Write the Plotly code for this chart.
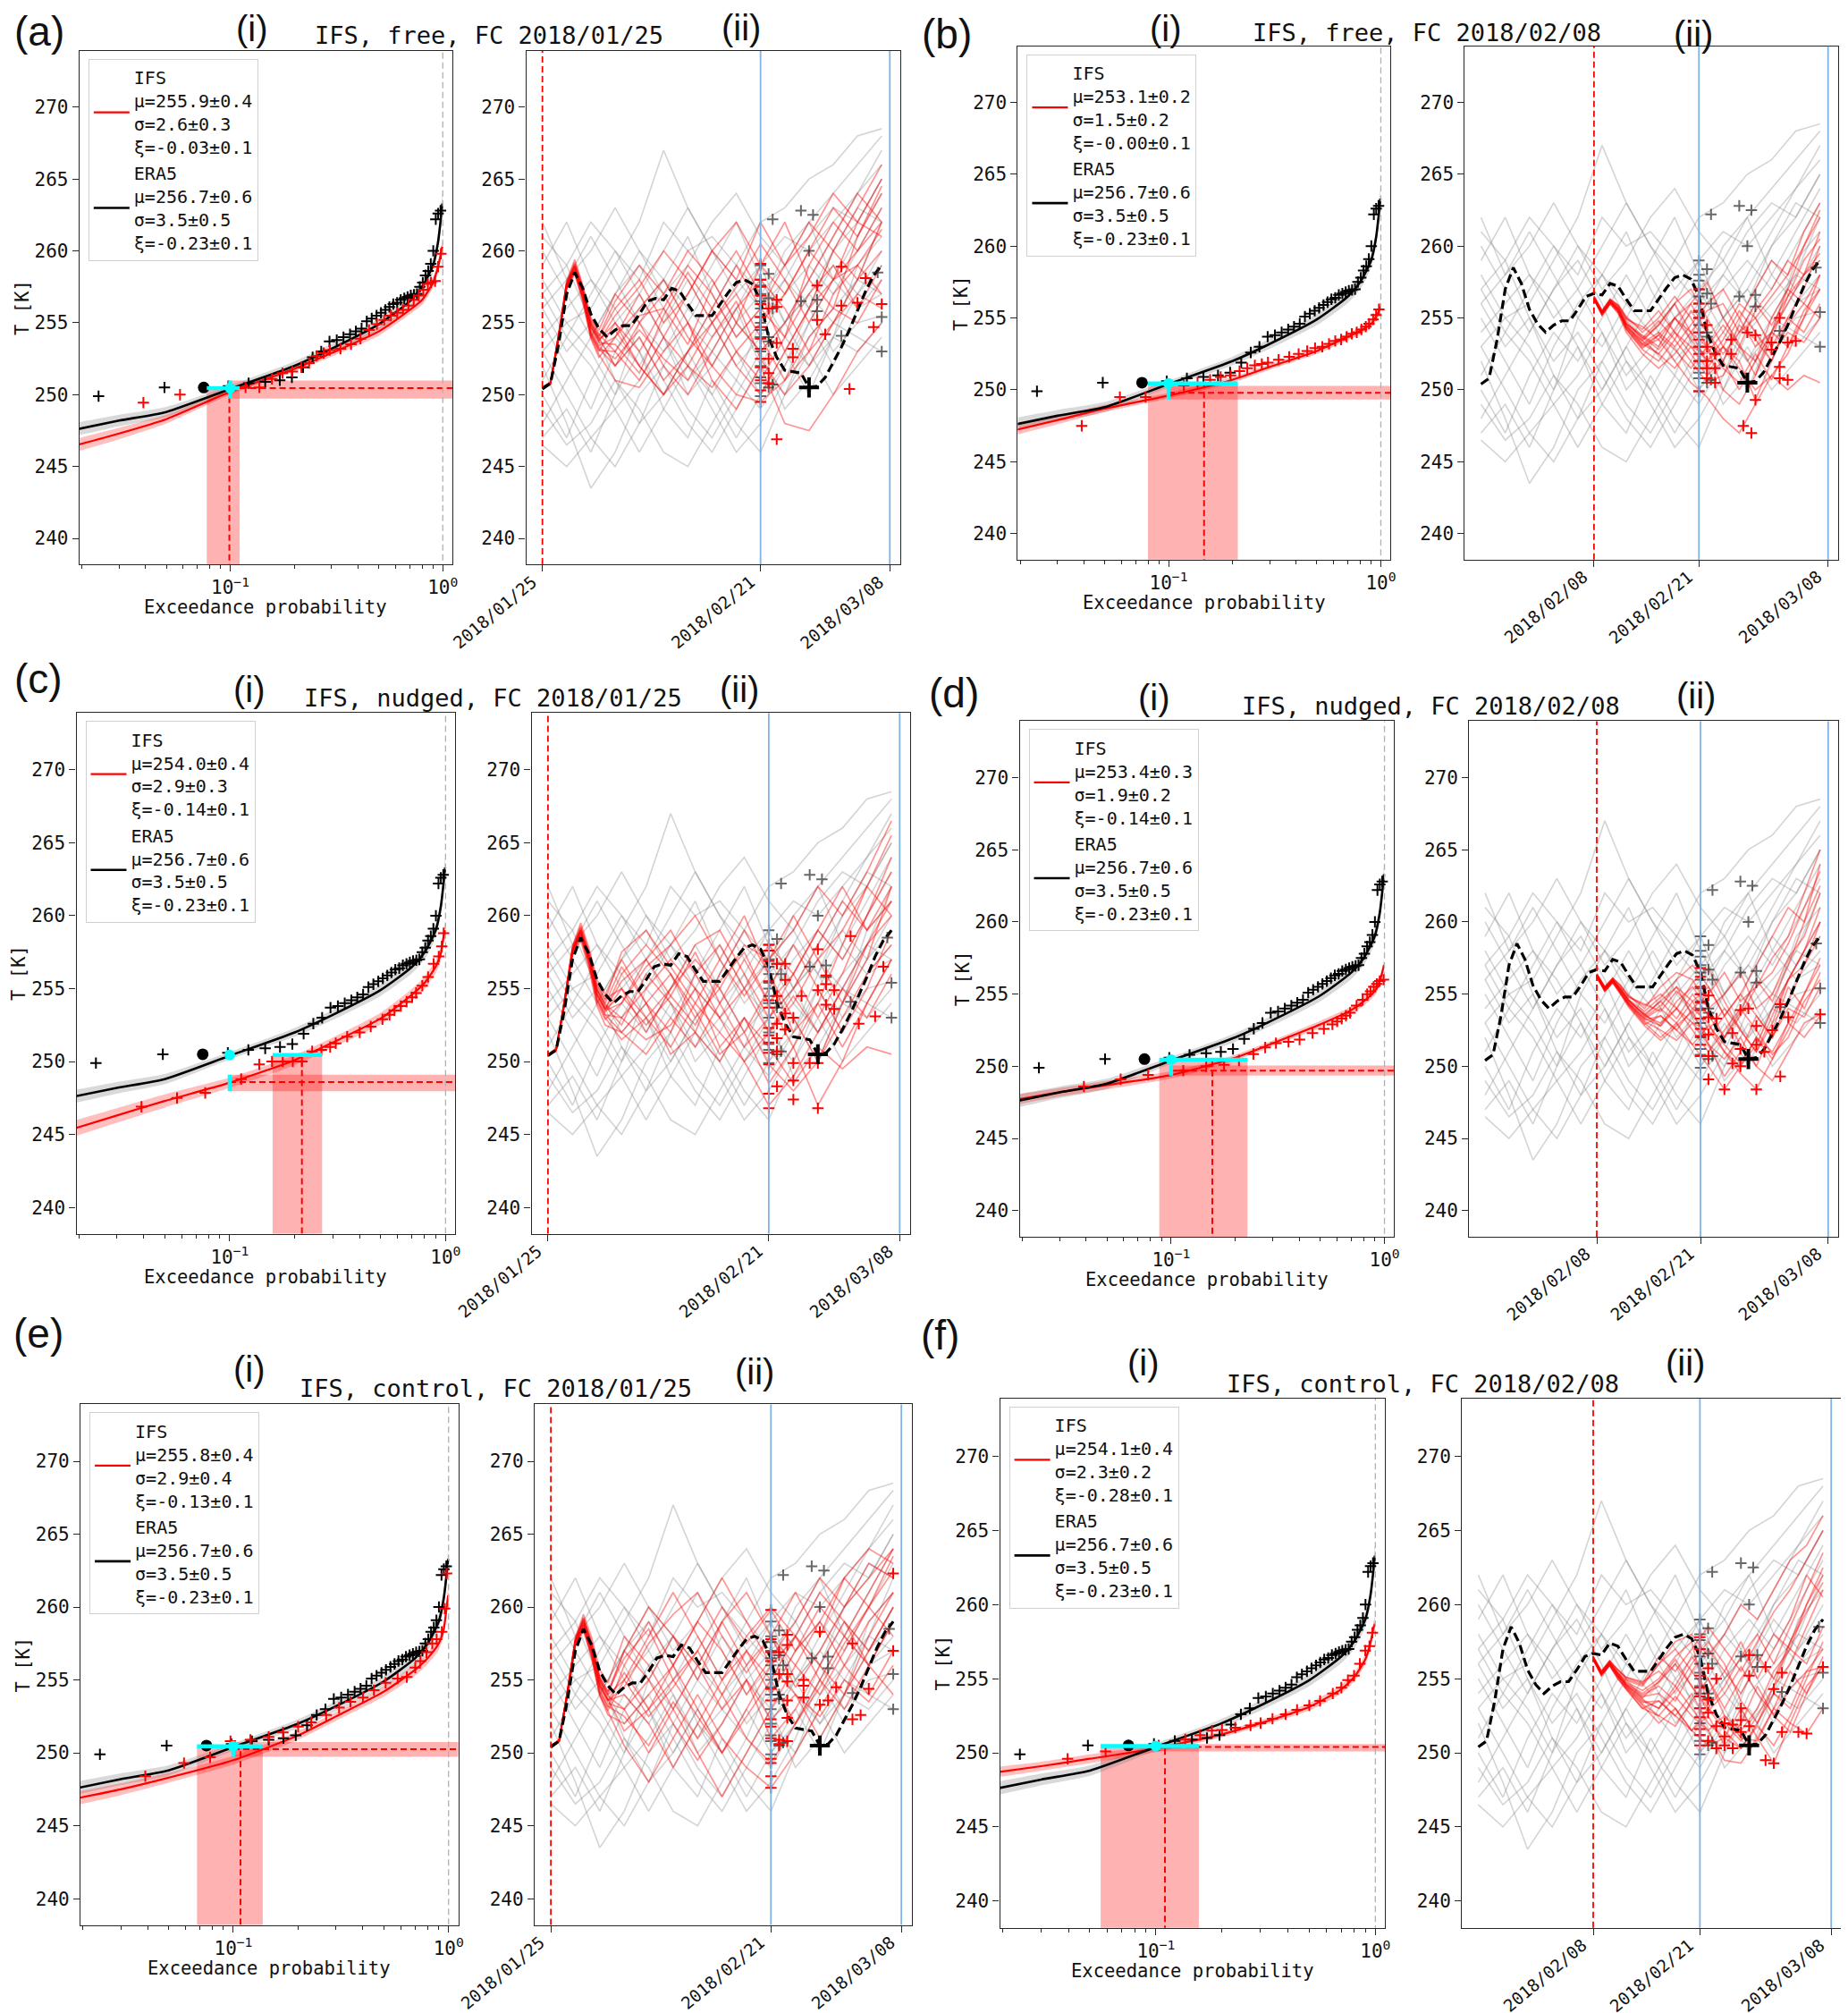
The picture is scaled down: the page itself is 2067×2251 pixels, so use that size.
import datetime as dt
import plotly.graph_objects as go

MONO = "DejaVu Sans Mono"
SANS = "Liberation Sans"
START = dt.datetime(2018, 1, 25)

# ---------------- ERA5, identical in every panel ----------------
P_GRID = [0.019, 0.03, 0.05, 0.1, 0.2, 0.3, 0.5, 0.7, 0.8, 0.9, 0.95, 0.98, 0.995]
ERA5_RL = [247.6, 248.2, 248.8, 250.4, 252.0, 253.2, 254.9, 256.5, 257.5, 259.0, 260.6, 262.3, 263.3]
ERA5_HW = [0.45, 0.4, 0.35, 0.25, 0.3, 0.35, 0.4, 0.45, 0.5, 0.5, 0.55, 0.6, 0.7]
ERA5_EMP_P = [0.024, 0.049, 0.098, 0.122, 0.146, 0.171, 0.195, 0.22, 0.244, 0.268,
              0.293, 0.317, 0.341, 0.366, 0.39, 0.415, 0.439, 0.463, 0.488, 0.512,
              0.537, 0.561, 0.585, 0.61, 0.634, 0.659, 0.683, 0.707, 0.732, 0.756,
              0.78, 0.805, 0.829, 0.854, 0.878, 0.902, 0.927, 0.951, 0.976]
ERA5_EMP_T = [249.9, 250.5, 250.6, 250.8, 250.9, 251.0, 251.2, 251.9, 252.6, 253.0,
              253.7, 253.8, 254.0, 254.2, 254.4, 254.6, 255.1, 255.3, 255.5, 255.7,
              255.9, 256.1, 256.3, 256.4, 256.6, 256.7, 256.8, 256.9, 256.95, 257.0,
              257.5, 257.8, 258.3, 258.6, 259.1, 260.0, 262.2, 262.6, 262.8]
EVENT_P = 0.075          # ERA5 2018 (black dot)
EVENT_T = 250.45
ERA5_RL10 = 250.45       # ERA5 10% return level (cyan dot)
ERA5_LABEL = "ERA5<br>μ=256.7±0.6<br>σ=3.5±0.5<br>ξ=-0.23±0.1"

# daily ERA5 2018 from 2018/01/25 to 2018/03/08
ERA5_2018 = [250.4, 250.8, 253.5, 257.0, 258.5, 257.4, 255.6, 254.6, 254.0, 254.5,
             254.8, 254.8, 255.6, 256.5, 256.7, 256.6, 257.4, 257.2, 256.3, 255.5,
             255.5, 255.5, 256.3, 257.1, 257.8, 258.0, 257.7, 256.5, 254.0, 252.6,
             251.7, 251.6, 251.5, 250.5, 250.6, 251.2, 252.2, 253.3, 254.5, 255.8,
             257.2, 258.3, 259.0]
ERA5_2018_MIN = (33, 250.5)

# other ERA5 years (grey), every 3 days
GREY_DAYS = [0, 3, 6, 9, 12, 15, 18, 21, 24, 27, 30, 33, 36, 39, 42]
GREY_YEARS = [
    [261, 259, 262, 260, 258, 262, 260, 261, 259, 262, 263, 265, 266, 268, 268.5],
    [258, 255, 256, 259, 262, 267, 263, 260, 258, 256, 258, 261, 263, 262, 265],
    [255, 252, 249, 253, 256, 258, 255, 253, 256, 259, 261, 260, 262, 264, 266],
    [252, 248, 243.5, 246, 250, 252, 249, 247, 250, 253, 255, 252, 254, 257, 259],
    [257, 259, 255, 252, 254, 251, 248, 246, 249, 252, 250, 254, 256, 258, 262],
    [250, 247, 251, 254, 252, 255, 258, 255, 252, 254, 257, 259, 257, 260, 263],
    [254, 256, 258, 256, 253, 250, 253, 256, 259, 257, 254, 252, 255, 254, 253],
    [248, 251, 254, 257, 259, 256, 252, 249, 246, 248, 251, 255, 258, 256, 257],
    [259, 262, 258, 255, 257, 260, 263, 260, 257, 259, 255, 258, 261, 264, 267],
    [253, 250, 247, 249, 246, 249, 252, 250, 253, 250, 252, 256, 253, 255, 255.5],
    [256, 253, 255, 251, 248, 252, 255, 258, 255, 253, 249, 251, 254, 259, 261],
    [251, 254, 252, 249, 251, 254, 251, 253, 251, 255, 258, 256, 259, 257, 260],
    [262, 258, 260, 263, 260, 257, 259, 262, 264, 261, 259, 262, 258, 261, 264],
    [247, 249, 246, 250, 253, 249, 247, 251, 248, 246, 250, 253, 250, 252, 254],
    [256, 258, 261, 258, 255, 253, 256, 259, 262, 258, 255, 257, 260, 262, 265],
    [249, 246.5, 248, 251, 249, 246, 245, 248, 251, 249, 252, 255, 252, 256, 258],
    [260, 257, 254, 257, 260, 258, 261, 257, 254, 256, 260, 262, 264, 266, 268],
    [253, 255, 253, 250, 255, 258, 256, 254, 256, 252, 255, 257, 255, 258, 257],
    [257, 254, 257, 260, 257, 254, 250, 252, 255, 257, 259, 256, 260, 263, 262],
    [246.5, 245, 247, 245, 248, 250, 253, 250, 247, 250, 253, 250, 254, 253, 255],
]
ERA5_MIN_DAY = [27, 27, 27, 27, 27, 27, 27, 27, 27, 27, 27, 27, 27, 27, 27,
                28, 28, 28, 28, 28, 28.5, 28.5, 28.5, 32, 32, 33, 33.5, 34, 34,
                37, 41.5, 42, 42]
ERA5_MIN_T = [259.0, 258.0, 257.6, 257.0, 256.5, 256.0, 255.4, 255.0, 254.5, 254.0,
              253.0, 252.0, 251.2, 250.8, 249.9, 258.4, 256.7, 254.0, 253.7, 250.5,
              262.2, 256.0, 250.7, 262.8, 256.5, 260.0, 262.5, 256.6, 255.8,
              254.1, 258.5, 255.4, 253.0]

WINDOW_START_DAY = 27    # 2018/02/21
WINDOW_END_DAY = 43      # end of 2018/03/08
JAN_DAYS = [0, 1, 2, 3, 4, 5, 6, 7, 9, 12, 15, 18, 21, 24, 27, 30, 33, 36, 39, 42]
FEB_DAYS = [14, 15, 16, 17, 18, 20, 22, 24, 26, 28, 30, 32, 34, 36, 38, 40, 42]

# ---------------- (a) IFS free, FC 2018/01/25 ----------------
A_LABEL = "IFS<br>μ=255.9±0.4<br>σ=2.6±0.3<br>ξ=-0.03±0.1"
A_RL = [246.5, 247.3, 248.3, 250.2, 251.8, 252.9, 254.4, 255.9, 256.6, 257.8, 258.9, 259.8, 260.3]
A_HW = [0.45, 0.4, 0.3, 0.2, 0.2, 0.25, 0.3, 0.3, 0.35, 0.35, 0.4, 0.4, 0.45]
A_EMP_P = [0.039, 0.058, 0.098, 0.118, 0.137, 0.157, 0.176, 0.196, 0.216, 0.235, 0.255,
           0.275, 0.294, 0.33, 0.37, 0.41, 0.45, 0.49, 0.53, 0.57, 0.61, 0.65, 0.69,
           0.73, 0.77, 0.81, 0.85, 0.88, 0.92, 0.95, 0.98]
A_EMP_T = [249.45, 250.0, 250.4, 250.5, 250.5, 251.1, 251.5, 251.6, 251.9, 252.2, 252.7,
           252.9, 253.1, 253.2, 253.5, 253.9, 254.5, 254.9, 255.2, 255.5, 255.7, 255.9,
           256.2, 256.6, 256.9, 257.3, 257.7, 257.8, 257.9, 258.9, 259.8]
A_P_EVENT = [0.0775, 0.099, 0.1107]
A_RL10 = [249.73, 250.45, 250.99]
A_MEMBERS = [
    [250.5, 250.8, 254.2, 257.8, 259.2, 257.5, 255.0, 254.0, 256, 258, 255, 257, 260, 258, 262, 259, 261, 264, 262, 265],
    [250.5, 250.8, 253.8, 257.4, 258.5, 256.6, 254.2, 253.2, 252, 254, 251, 253, 255, 252, 250, 253, 256, 258, 260, 262],
    [250.4, 250.7, 254.0, 257.6, 258.9, 257.2, 254.8, 253.8, 255, 253, 256, 259, 257, 254, 256, 259, 262, 260, 263, 266],
    [250.5, 250.9, 254.1, 257.7, 258.6, 256.8, 254.0, 252.8, 251, 250.5, 253, 255, 252, 250, 249.5, 251, 254, 256, 255, 258],
    [250.5, 250.8, 253.9, 257.5, 259.0, 257.3, 255.2, 254.5, 257, 255, 252, 250, 253, 256, 258, 256, 253, 255, 258, 260],
    [250.5, 250.8, 254.0, 257.6, 258.7, 256.9, 254.4, 253.4, 254, 256, 258, 255, 251, 249, 252, 248, 247.5, 250, 253, 255],
    [250.4, 250.8, 254.2, 257.9, 259.4, 257.6, 255.4, 254.2, 253, 251, 254, 257, 260, 262, 259, 257, 260, 263, 261, 264],
    [250.5, 250.8, 253.9, 257.4, 258.4, 256.4, 253.9, 252.6, 254, 257, 254, 252, 255, 257, 254, 251, 253, 257, 259, 257],
    [250.5, 250.8, 254.1, 257.7, 258.9, 257.1, 254.7, 253.9, 252, 255, 257, 260, 258, 255, 253, 255, 258, 261, 264, 262],
    [250.5, 250.8, 254.0, 257.5, 258.6, 256.7, 254.1, 253.0, 255, 252, 250, 253, 256, 259, 256, 254, 257, 259, 256, 259],
    [250.5, 250.8, 254.0, 257.6, 258.8, 257.0, 254.6, 253.6, 253.5, 251.5, 255.5, 258.5, 256, 253, 251, 254, 259, 262, 260, 263],
    [250.5, 250.8, 254.1, 257.8, 259.1, 257.4, 255.1, 254.1, 256.5, 259, 257, 254, 252, 255, 259, 262, 258, 256, 261, 264.5],
    [250.4, 250.8, 253.9, 257.5, 258.7, 256.9, 254.3, 253.3, 252.5, 254.5, 252.5, 251, 254, 256.5, 252.5, 250, 252, 255, 257, 256],
    [250.5, 250.8, 254.0, 257.6, 258.9, 257.2, 254.7, 253.7, 255.5, 257.5, 260, 258, 255, 257.5, 260.5, 258, 255, 258, 262, 261],
    [250.5, 250.9, 254.1, 257.7, 259.0, 257.2, 254.9, 253.9, 254.5, 252, 250, 252, 250.5, 253, 255, 257, 260, 258, 259, 261.5],
    [250.5, 250.8, 253.9, 257.5, 258.6, 256.7, 254.2, 253.1, 253, 255.5, 256, 253.5, 257.5, 260, 257, 253, 256, 260, 258, 262],
]
A_MIN_DAY = [27, 27, 27, 27, 27, 27, 27, 27, 27, 27, 27, 27, 27, 27, 28, 28, 28, 28,
             29, 29, 29, 29, 31, 31, 34, 34, 35, 37, 37, 38, 39, 40, 41, 42]
A_MIN_T = [259.1, 258.0, 257.5, 256.9, 256.3, 255.4, 254.7, 253.9, 253.2, 252.5, 251.9,
           251.0, 250.3, 249.5, 256.0, 252.5, 251.5, 250.8, 256.6, 253.6, 246.9, 256.1,
           253.2, 252.6, 257.6, 255.2, 254.2, 258.9, 256.2, 250.4, 256.4, 258.1, 254.7, 256.3]

# ---------------- (b) IFS free, FC 2018/02/08 ----------------
B_LABEL = "IFS<br>μ=253.1±0.2<br>σ=1.5±0.2<br>ξ=-0.00±0.1"
B_RL = [247.2, 247.9, 248.7, 249.6, 250.7, 251.6, 252.7, 253.7, 254.1, 254.6, 255.1, 255.5, 255.8]
B_HW = [0.35, 0.3, 0.25, 0.2, 0.2, 0.2, 0.2, 0.25, 0.25, 0.3, 0.3, 0.35, 0.35]
B_EMP_P = [0.039, 0.059, 0.078, 0.118, 0.137, 0.157, 0.176, 0.196, 0.216, 0.235, 0.255,
           0.275, 0.294, 0.33, 0.37, 0.41, 0.45, 0.49, 0.53, 0.57, 0.61, 0.65, 0.69,
           0.73, 0.77, 0.81, 0.85, 0.88, 0.92, 0.95, 0.98]
B_EMP_T = [247.5, 249.5, 249.5, 250.3, 250.5, 250.7, 250.9, 251.0, 251.3, 251.5, 251.7,
           251.8, 251.9, 252.1, 252.3, 252.5, 252.7, 252.9, 253.0, 253.2, 253.4, 253.5,
           253.7, 253.9, 254.0, 254.2, 254.4, 254.6, 254.9, 255.2, 255.6]
B_P_EVENT = [0.080, 0.147, 0.212]
B_RL10 = [249.33, 249.8, 250.27]
B_MEMBERS = [
    [256.4, 255.4, 256.2, 255.8, 254.8, 253.5, 254.5, 256, 257, 255, 253, 255, 257, 259, 258, 261, 263],
    [256.3, 255.2, 256.0, 255.4, 254.2, 252.8, 252, 253.5, 252, 250.5, 251, 253, 252, 254, 256, 258, 259],
    [256.5, 255.5, 256.3, 255.9, 255.0, 254.2, 255.5, 254, 253, 252.5, 254, 256, 255, 253, 255, 257, 260],
    [256.3, 255.3, 256.1, 255.5, 254.3, 253.0, 253.5, 252, 250.5, 249.5, 248, 247, 249, 251, 250, 251, 250.5],
    [256.4, 255.4, 256.2, 255.7, 254.6, 253.8, 253, 255, 256, 254, 252, 250, 252, 255, 257, 256, 258],
    [256.4, 255.3, 256.1, 255.6, 254.5, 253.2, 254, 253, 254.5, 256, 257, 255, 253, 254, 257, 260, 262],
    [256.3, 255.2, 256.0, 255.3, 254.0, 252.5, 251.5, 252.5, 254, 253, 250, 249, 251, 254, 253, 255, 257],
    [256.5, 255.5, 256.3, 255.9, 255.1, 254.0, 255, 256.5, 255, 253, 254.5, 253, 255.5, 257, 259, 258, 261],
    [256.4, 255.4, 256.2, 255.6, 254.4, 253.4, 252.5, 254, 252.5, 251, 252, 254.5, 253.5, 252, 254.5, 256, 255],
    [256.3, 255.3, 256.1, 255.5, 254.3, 253.1, 253.8, 255, 253.5, 252, 253, 251.5, 250, 251, 252.5, 255, 258],
    [256.4, 255.4, 256.2, 255.7, 254.6, 253.6, 254.8, 253.5, 255.5, 254, 252.5, 254, 256, 254.5, 256.5, 259, 260.5],
    [256.3, 255.3, 256.1, 255.5, 254.4, 253.2, 252.5, 251.5, 253, 251.5, 253, 252, 249.3, 252, 255, 254, 256],
    [256.5, 255.5, 256.3, 255.8, 254.9, 254.4, 253.5, 255, 254, 255.5, 256, 254, 255, 256.5, 258, 260, 262.5],
    [256.3, 255.2, 256.0, 255.4, 254.2, 252.9, 253.8, 252.8, 251.5, 253, 251.5, 250.5, 252.5, 250.7, 253, 255.5, 257],
    [256.4, 255.4, 256.2, 255.6, 254.5, 253.4, 254.5, 256, 254, 252, 253.5, 255.5, 254, 252.5, 254, 253.3, 255],
    [256.4, 255.3, 256.1, 255.6, 254.6, 253.7, 252.8, 254.2, 256, 257.5, 255, 253.2, 251, 253.5, 256.5, 258, 259.5],
]
B_MIN_DAY = [27, 27, 27, 27, 27, 27, 27, 27, 27, 27, 27, 28, 28, 28, 28, 28, 29, 29, 29,
             31, 31, 32.5, 33, 33, 33.5, 34, 34, 36, 36, 37, 37, 37, 38, 38, 39]
B_MIN_T = [257.0, 256.0, 255.5, 255.0, 254.0, 253.5, 253.0, 252.5, 252.0, 251.5, 249.9,
           254.5, 253.0, 252.0, 251.5, 250.8, 252.5, 251.5, 250.5, 253.5, 252.5, 247.5,
           254.0, 250.5, 247.0, 249.3, 253.8, 253.3, 252.8, 255.0, 251.6, 250.8, 253.3,
           250.7, 253.4]

# ---------------- (c) IFS nudged, FC 2018/01/25 ----------------
C_LABEL = "IFS<br>μ=254.0±0.4<br>σ=2.9±0.3<br>ξ=-0.14±0.1"
C_RL = [245.4, 246.3, 247.3, 248.55, 250.1, 251.3, 252.95, 254.6, 255.4, 256.5, 257.4, 258.6, 259.0]
C_HW = [0.55, 0.5, 0.45, 0.35, 0.35, 0.35, 0.4, 0.4, 0.45, 0.45, 0.5, 0.5, 0.55]
C_EMP_P = [0.039, 0.057, 0.077, 0.113, 0.137, 0.157, 0.176, 0.196, 0.216, 0.241, 0.266,
           0.292, 0.31, 0.35, 0.4, 0.45, 0.51, 0.55, 0.58, 0.62, 0.66, 0.7, 0.73, 0.78,
           0.83, 0.88, 0.93, 0.96, 0.98]
C_EMP_T = [246.9, 247.5, 247.85, 248.8, 249.8, 250.0, 250.0, 250.0, 250.0, 250.7, 250.8,
           251.0, 251.25, 251.7, 252.0, 252.4, 252.9, 253.2, 253.5, 253.8, 254.1, 254.4,
           254.7, 255.2, 255.8, 256.7, 257.2, 257.9, 258.8]
C_P_EVENT = [0.158, 0.216, 0.268]
C_RL10 = [247.96, 248.6, 249.1]
C_MEMBERS = [
    [250.5, 250.8, 254.0, 257.6, 259.0, 257.3, 254.8, 253.6, 256, 258, 256, 253, 255, 258, 257, 259, 262, 260, 263, 266.5],
    [250.5, 250.8, 253.9, 257.5, 258.6, 256.8, 254.2, 253.0, 251.5, 253, 251, 254, 252, 250, 247, 249, 252, 255, 253, 256],
    [250.4, 250.7, 254.1, 257.8, 259.3, 257.6, 255.3, 254.3, 255, 252, 255, 258, 259, 256, 253, 255, 258, 261, 259, 262],
    [250.5, 250.9, 254.0, 257.6, 258.7, 256.9, 254.3, 253.2, 253, 255, 257, 255, 251, 253, 249.8, 248, 250, 253, 256, 258],
    [250.5, 250.8, 254.2, 257.9, 259.5, 257.8, 255.6, 254.6, 257, 254, 252, 256, 258, 255, 258, 256, 253, 256, 260, 263],
    [250.5, 250.8, 253.8, 257.3, 258.3, 256.4, 253.8, 252.5, 252, 250.5, 253, 251, 254, 257, 254, 251, 247, 250, 254, 257],
    [250.5, 250.8, 254.1, 257.7, 259.0, 257.1, 254.6, 253.5, 254, 257, 259, 256, 253, 255, 252, 254, 257, 259, 262, 260],
    [250.4, 250.8, 253.9, 257.5, 258.8, 257.0, 254.5, 253.4, 255, 253, 255, 257, 255, 252, 255, 258, 255, 252, 255, 259],
    [250.5, 250.8, 254.0, 257.6, 258.9, 257.2, 254.9, 253.8, 252.5, 256, 254, 252, 256, 259, 256, 253, 250, 254, 258, 261],
    [250.5, 250.8, 254.1, 257.7, 259.1, 257.4, 255.0, 254.0, 256.5, 254, 250.5, 252, 250, 253, 251, 248.5, 251, 249.5, 251, 250.5],
    [250.5, 250.8, 254.0, 257.6, 258.8, 257.0, 254.6, 253.6, 254.5, 252.5, 254.5, 257.5, 254, 251, 253, 256, 259, 257, 260, 264],
    [250.5, 250.8, 254.1, 257.8, 259.2, 257.5, 255.2, 254.2, 257.5, 259, 256.5, 254, 257, 260, 256, 252, 254, 258, 262, 265.5],
    [250.4, 250.8, 253.9, 257.5, 258.6, 256.8, 254.2, 253.2, 252, 254, 256, 253.5, 250.5, 252, 248.5, 251, 254, 251, 254, 257],
    [250.5, 250.8, 254.0, 257.6, 258.9, 257.1, 254.6, 253.6, 255.5, 257, 254.5, 252.5, 255.5, 257.5, 254, 256, 259, 262, 259, 261],
    [250.5, 250.9, 254.1, 257.7, 259.0, 257.3, 254.9, 253.9, 253, 251.5, 252.5, 255, 253, 250, 252, 254.5, 252, 255, 258, 260],
    [250.5, 250.8, 253.9, 257.4, 258.5, 256.6, 254.0, 252.9, 254, 256.5, 258, 260, 257, 254.5, 257, 260, 257, 254, 257, 262],
]
C_MIN_DAY = [27, 27, 27, 27, 27, 27, 27, 27, 27, 27, 27, 27, 27, 28, 28, 28, 28, 28, 28,
             29, 29, 29, 29, 30, 30, 30, 30, 31, 32, 33, 33, 33, 33, 34, 34, 34, 35, 35,
             37, 38, 40, 41]
C_MIN_T = [258.0, 257.6, 256.9, 255.5, 254.2, 253.7, 252.3, 251.8, 251.3, 250.6, 249.8,
           247.8, 246.8, 256.7, 254.5, 252.6, 251.6, 250.7, 248.3, 256.7, 255.6, 253.3,
           252.2, 253.0, 249.9, 248.7, 247.4, 254.5, 249.9, 257.7, 254.9, 249.9, 246.8,
           255.9, 255.3, 253.9, 254.9, 253.6, 258.6, 252.6, 253.1, 256.5]

# ---------------- (d) IFS nudged, FC 2018/02/08 ----------------
D_LABEL = "IFS<br>μ=253.4±0.3<br>σ=1.9±0.2<br>ξ=-0.14±0.1"
D_RL = [247.7, 248.2, 248.7, 249.4, 250.6, 251.6, 252.9, 253.9, 254.5, 255.2, 255.9, 256.6, 257.0]
D_HW = [0.35, 0.3, 0.3, 0.25, 0.2, 0.2, 0.25, 0.25, 0.3, 0.3, 0.3, 0.35, 0.35]
D_EMP_P = [0.039, 0.058, 0.078, 0.114, 0.146, 0.177, 0.208, 0.243, 0.276, 0.31, 0.355,
           0.40, 0.46, 0.52, 0.57, 0.60, 0.63, 0.66, 0.69, 0.74, 0.79, 0.83, 0.86, 0.89,
           0.92, 0.95, 0.99]
D_EMP_T = [248.6, 249.1, 249.4, 249.7, 250.0, 250.1, 250.4, 250.85, 251.3, 251.6, 251.7,
           251.85, 252.3, 252.6, 252.9, 253.1, 253.3, 253.5, 253.7, 254.2, 254.6, 255.0,
           255.2, 255.5, 255.7, 255.9, 256.0]
D_P_EVENT = [0.088, 0.156, 0.228]
D_RL10 = [249.35, 249.7, 250.05]
D_MEMBERS = [
    [256.3, 255.4, 256.0, 255.3, 254.6, 253.8, 254.8, 256.0, 257.0, 255.5, 253.5, 255, 257, 259, 261, 260, 264],
    [256.2, 255.2, 255.8, 255.0, 254.2, 253.0, 252.0, 253.0, 251.5, 250.0, 248.4, 250, 252, 251, 253, 255, 257],
    [256.4, 255.5, 256.1, 255.5, 254.8, 254.2, 255.0, 254.0, 253.0, 252.5, 254.0, 252.5, 251.0, 253.5, 256, 258, 261],
    [256.2, 255.3, 255.9, 255.1, 254.3, 253.2, 253.5, 252.5, 254.0, 253.0, 251.0, 249.5, 248.4, 250.5, 253, 252, 253.5],
    [256.3, 255.4, 256.0, 255.3, 254.5, 253.6, 252.8, 254.5, 255.5, 254.0, 252.0, 253.5, 255.5, 257.5, 259, 262, 265],
    [256.3, 255.3, 255.9, 255.2, 254.4, 253.4, 254.2, 255.5, 254.5, 252.5, 251.0, 250.0, 251.5, 254, 256, 257, 259],
    [256.2, 255.2, 255.8, 255.0, 254.1, 252.8, 251.8, 252.8, 253.8, 251.5, 249.3, 251, 253.5, 252, 254.5, 257, 260],
    [256.4, 255.5, 256.1, 255.6, 254.9, 254.0, 255.5, 256.5, 256.0, 254.0, 255.0, 256.5, 254.0, 255.0, 257.5, 259, 262],
    [256.3, 255.4, 256.0, 255.4, 254.6, 253.5, 253.0, 254.0, 252.5, 251.0, 252.5, 254.0, 252.5, 250.8, 252, 254.5, 256],
    [256.2, 255.3, 255.9, 255.2, 254.3, 253.3, 254.0, 253.0, 254.5, 255.5, 253.5, 251.5, 250.0, 249.0, 251, 253, 253.6],
    [256.3, 255.4, 256.0, 255.3, 254.5, 253.6, 254.5, 253.3, 255.0, 253.5, 252.0, 253.8, 256.0, 254.5, 257.0, 260.0, 262.5],
    [256.2, 255.3, 255.9, 255.1, 254.3, 253.1, 252.5, 251.8, 253.0, 251.5, 250.5, 252.0, 250.0, 252.5, 255.5, 254.0, 256.5],
    [256.4, 255.5, 256.1, 255.6, 254.8, 254.3, 253.8, 255.2, 254.0, 255.0, 256.5, 254.5, 255.5, 256.5, 258.5, 261.0, 263.5],
    [256.2, 255.2, 255.8, 255.0, 254.2, 252.9, 253.5, 252.5, 251.5, 252.8, 251.5, 250.2, 252.0, 250.5, 252.5, 255.0, 257.5],
    [256.3, 255.4, 256.0, 255.4, 254.6, 253.5, 254.5, 255.5, 253.5, 252.0, 253.5, 255.0, 253.5, 252.0, 254.0, 253.4, 255.5],
    [256.3, 255.3, 255.9, 255.2, 254.4, 253.3, 252.8, 254.0, 255.8, 256.8, 254.5, 252.5, 251.0, 253.0, 256.0, 258.0, 260.0],
]
D_MIN_DAY = [27, 27, 27, 27, 27, 27, 27, 27, 27, 27, 27, 28, 28, 28, 28, 28, 29, 30, 31,
             31, 32, 32, 32, 33, 34, 34, 34, 35, 36, 37, 37, 38, 42]
D_MIN_T = [256.8, 256.2, 255.5, 255.0, 254.4, 253.9, 253.3, 252.6, 252.1, 251.5, 250.7,
           254.9, 253.4, 252.2, 250.7, 249.1, 253.3, 248.4, 252.3, 250.2, 253.9, 251.2,
           250.0, 254.0, 252.8, 251.5, 248.4, 251.0, 252.5, 249.3, 254.3, 253.4, 253.6]

# ---------------- (e) IFS control, FC 2018/01/25 ----------------
E_LABEL = "IFS<br>μ=255.8±0.4<br>σ=2.9±0.4<br>ξ=-0.13±0.1"
E_RL = [246.9, 247.5, 248.3, 249.5, 251.2, 252.5, 254.2, 255.7, 256.5, 257.5, 258.5, 260.0, 260.8]
E_HW = [0.45, 0.4, 0.35, 0.3, 0.3, 0.3, 0.35, 0.4, 0.4, 0.45, 0.45, 0.5, 0.55]
E_EMP_P = [0.039, 0.059, 0.078, 0.097, 0.12, 0.146, 0.17, 0.2, 0.23, 0.27, 0.31, 0.35,
           0.40, 0.45, 0.51, 0.58, 0.64, 0.70, 0.74, 0.79, 0.84, 0.88, 0.93, 0.96, 0.98]
E_EMP_T = [248.4, 249.3, 249.7, 250.8, 250.9, 251.1, 251.4, 251.8, 252.1, 252.6, 253.1,
           253.5, 253.8, 254.3, 254.8, 255.1, 255.2, 255.85, 256.3, 256.9, 257.5, 257.8,
           258.3, 259.9, 262.3]
E_P_EVENT = [0.0678, 0.108, 0.137]
E_RL10 = [249.73, 250.25, 250.75]
E_MEMBERS = [
    [250.5, 250.8, 254.0, 257.7, 259.2, 257.6, 255.2, 254.2, 257, 260, 258, 255, 259, 261, 258, 256, 259, 262, 264, 263],
    [250.5, 250.8, 253.9, 257.4, 258.6, 256.7, 254.0, 252.8, 250.5, 248, 251, 254, 251, 249, 247.6, 250, 253, 256, 254, 257],
    [250.4, 250.8, 254.1, 257.8, 259.3, 257.5, 255.1, 254.0, 255, 258, 261, 258, 255, 257, 254, 257, 260, 258, 261, 264],
    [250.5, 250.9, 254.0, 257.6, 258.8, 257.0, 254.5, 253.4, 253, 250, 253, 256, 253, 255, 251, 253, 256, 254, 257, 260],
    [250.5, 250.8, 254.2, 257.9, 259.5, 257.9, 255.7, 254.8, 258, 256, 253, 250, 247, 250, 253, 256, 254, 257, 260, 258],
    [250.5, 250.8, 253.8, 257.3, 258.4, 256.5, 253.9, 252.6, 252, 254, 256, 259, 262, 259, 256, 258, 261, 259, 256, 259],
    [250.5, 250.8, 254.1, 257.7, 259.0, 257.2, 254.7, 253.6, 254, 252, 249, 252, 255, 258, 260, 258, 255, 253, 256, 254],
    [250.4, 250.8, 254.0, 257.5, 258.7, 256.8, 254.3, 253.1, 256, 259, 256, 253, 250, 253, 256, 254, 251, 254, 258, 261],
    [250.5, 250.8, 254.0, 257.6, 258.9, 257.1, 254.8, 253.7, 251.5, 253, 255, 257, 254, 251, 249.3, 252, 255, 258, 256, 259],
    [250.5, 250.8, 254.1, 257.7, 259.1, 257.4, 255.0, 254.0, 257, 255, 258, 256, 259, 256, 258, 261, 258, 262, 260, 262.5],
    [250.5, 250.8, 254.0, 257.6, 258.8, 257.0, 254.6, 253.6, 255.5, 253, 256, 259, 257, 254, 256.5, 259, 262, 260, 263, 262],
    [250.5, 250.8, 254.1, 257.8, 259.2, 257.5, 255.2, 254.2, 256.5, 258.5, 255, 252.5, 250, 252.5, 255, 252, 254.5, 257.5, 260, 263.5],
    [250.4, 250.8, 253.9, 257.5, 258.6, 256.8, 254.2, 253.2, 252.5, 250.5, 253.5, 251, 254, 257, 255, 258, 256, 259, 257, 260],
    [250.5, 250.8, 254.0, 257.6, 258.9, 257.1, 254.6, 253.6, 254.5, 257.5, 259.5, 261, 258, 255.5, 258, 254.5, 257, 260, 262, 264],
    [250.5, 250.9, 254.1, 257.7, 259.0, 257.3, 254.9, 253.9, 253, 255, 252, 249.5, 252, 255, 252.3, 254, 252.5, 255, 253.5, 256],
    [250.5, 250.8, 253.9, 257.4, 258.5, 256.6, 254.0, 252.9, 255, 252.5, 254.5, 257, 260, 257.5, 259.8, 257, 259, 256, 259, 261],
]
E_MIN_DAY = [27, 27, 27, 27, 27, 27, 27, 27, 27, 27, 27, 27, 27, 28, 28, 28, 28,
             29, 29, 29, 29, 29, 29, 29, 31, 31, 31, 33, 33, 34, 35, 37, 37, 38, 39, 42, 42]
E_MIN_T = [259.8, 257.8, 256.9, 256.3, 254.4, 253.6, 252.3, 251.8, 251.0, 249.6, 249.3,
           248.4, 247.6, 256.9, 255.4, 250.9, 250.6, 258.1, 257.4, 255.4, 254.9, 253.6,
           252.4, 250.8, 255.0, 254.6, 253.8, 258.3, 253.3, 253.6, 254.5, 257.5, 252.3,
           252.6, 254.4, 257.0, 262.3]

# ---------------- (f) IFS control, FC 2018/02/08 ----------------
F_LABEL = "IFS<br>μ=254.1±0.4<br>σ=2.3±0.2<br>ξ=-0.28±0.1"
F_RL = [248.7, 249.1, 249.6, 250.3, 251.25, 252.0, 253.1, 254.3, 255.1, 256.3, 257.4, 258.4, 258.7]
F_HW = [0.35, 0.3, 0.3, 0.25, 0.2, 0.2, 0.25, 0.3, 0.3, 0.35, 0.35, 0.4, 0.45]
F_EMP_P = [0.0396, 0.059, 0.103, 0.136, 0.159, 0.18, 0.2, 0.23, 0.27, 0.3, 0.34, 0.39,
           0.44, 0.5, 0.56, 0.64, 0.7, 0.75, 0.8, 0.85, 0.9, 0.94, 0.97]
F_EMP_T = [249.6, 250.1, 250.5, 250.9, 251.2, 251.5, 251.55, 251.7, 251.85, 252.0, 252.3,
           252.6, 252.9, 253.2, 253.5, 254.0, 254.4, 254.9, 255.2, 256.0, 256.9, 257.2, 258.1]
F_P_EVENT = [0.056, 0.11, 0.157]
F_RL10 = [250.1, 250.4, 250.6]
F_MEMBERS = [
    [256.4, 255.4, 256.1, 255.4, 254.9, 254.5, 256.0, 257.5, 258.0, 256.5, 258.0, 260.0, 259.0, 261.0, 263.0, 264.0, 266.0],
    [256.3, 255.3, 255.9, 255.1, 254.4, 253.2, 252.0, 253.0, 251.5, 250.5, 251.0, 250.3, 252.0, 254.0, 253.0, 255.5, 257.0],
    [256.5, 255.5, 256.2, 255.6, 255.1, 254.8, 255.5, 254.5, 256.5, 255.0, 253.0, 255.0, 256.6, 255.0, 257.5, 260.0, 262.0],
    [256.3, 255.3, 256.0, 255.2, 254.6, 253.6, 253.0, 254.5, 253.0, 251.5, 249.5, 249.3, 251.0, 253.0, 252.0, 251.3, 253.0],
    [256.4, 255.4, 256.1, 255.3, 254.7, 254.0, 254.8, 256.0, 254.5, 253.0, 254.5, 256.5, 258.0, 256.0, 258.5, 261.0, 263.5],
    [256.3, 255.2, 255.9, 255.0, 254.3, 253.0, 252.5, 251.8, 253.5, 255.0, 252.5, 251.5, 253.0, 255.5, 257.0, 256.0, 258.5],
    [256.4, 255.4, 256.0, 255.3, 254.6, 253.8, 254.0, 253.0, 251.5, 252.5, 250.5, 252.0, 254.5, 252.5, 251.4, 254.0, 256.0],
    [256.5, 255.5, 256.2, 255.6, 255.0, 254.6, 256.0, 257.0, 255.5, 254.0, 255.5, 257.5, 255.0, 257.0, 259.0, 262.0, 260.5],
    [256.3, 255.3, 256.0, 255.2, 254.5, 253.4, 253.5, 252.5, 254.0, 252.0, 251.0, 253.0, 251.0, 249.3, 252.0, 254.5, 255.8],
    [256.4, 255.4, 256.1, 255.4, 254.8, 254.2, 255.0, 256.5, 257.5, 253.0, 252.0, 250.8, 252.5, 254.5, 256.0, 258.5, 261.0],
    [256.4, 255.4, 256.1, 255.4, 254.7, 253.9, 254.5, 253.5, 255.5, 257.0, 255.5, 254.0, 256.0, 258.0, 257.0, 260.0, 262.5],
    [256.3, 255.3, 255.9, 255.1, 254.4, 253.3, 252.5, 253.8, 252.5, 251.5, 252.5, 251.0, 250.8, 253.0, 255.5, 254.0, 256.5],
    [256.5, 255.5, 256.2, 255.6, 255.1, 254.7, 256.5, 255.5, 257.0, 258.5, 257.0, 255.5, 257.5, 259.5, 261.0, 263.0, 265.0],
    [256.3, 255.2, 255.9, 255.0, 254.3, 253.0, 253.5, 252.5, 251.5, 253.0, 251.5, 250.3, 251.8, 250.5, 252.5, 255.0, 257.5],
    [256.4, 255.4, 256.1, 255.3, 254.6, 253.7, 254.8, 256.3, 254.5, 252.8, 254.0, 255.8, 254.0, 252.6, 254.3, 255.5, 255.8],
    [256.4, 255.3, 256.0, 255.2, 254.5, 253.5, 253.0, 254.2, 256.0, 257.5, 256.0, 253.5, 252.0, 254.5, 257.5, 259.5, 261.5],
]
F_MIN_DAY = [27, 27, 27, 27, 27, 27, 27, 27, 27, 27, 28, 28, 28, 28, 29, 29, 29, 30, 30,
             30, 31, 31, 32, 32, 32, 33, 33, 33, 35, 35, 36, 36, 37, 37, 39, 40, 42]
F_MIN_T = [257.8, 257.0, 255.2, 254.4, 253.8, 253.0, 252.4, 251.6, 251.2, 250.5, 255.7,
           253.6, 252.7, 250.8, 255.0, 251.8, 250.3, 252.0, 251.1, 250.5, 251.9, 250.3,
           253.0, 252.2, 251.4, 256.6, 255.2, 251.8, 249.5, 255.8, 249.3, 254.3, 255.4,
           251.4, 251.4, 251.3, 255.8]

PANELS = [
    ("a", "free", 0, A_LABEL, A_RL, A_HW, A_EMP_P, A_EMP_T, A_P_EVENT, A_RL10, JAN_DAYS, A_MEMBERS, A_MIN_DAY, A_MIN_T),
    ("b", "free", 14, B_LABEL, B_RL, B_HW, B_EMP_P, B_EMP_T, B_P_EVENT, B_RL10, FEB_DAYS, B_MEMBERS, B_MIN_DAY, B_MIN_T),
    ("c", "nudged", 0, C_LABEL, C_RL, C_HW, C_EMP_P, C_EMP_T, C_P_EVENT, C_RL10, JAN_DAYS, C_MEMBERS, C_MIN_DAY, C_MIN_T),
    ("d", "nudged", 14, D_LABEL, D_RL, D_HW, D_EMP_P, D_EMP_T, D_P_EVENT, D_RL10, FEB_DAYS, D_MEMBERS, D_MIN_DAY, D_MIN_T),
    ("e", "control", 0, E_LABEL, E_RL, E_HW, E_EMP_P, E_EMP_T, E_P_EVENT, E_RL10, JAN_DAYS, E_MEMBERS, E_MIN_DAY, E_MIN_T),
    ("f", "control", 14, F_LABEL, F_RL, F_HW, F_EMP_P, F_EMP_T, F_P_EVENT, F_RL10, FEB_DAYS, F_MEMBERS, F_MIN_DAY, F_MIN_T),
]

# ---------------- layout geometry (paper fractions) ----------------
GEOM = {
    "a": dict(left=[0.0391, 0.2409], right=[0.2809, 0.4831], y=[0.7232, 0.9782],
              letter=(0.0175, 0.9882), i=(0.1326, 0.9893), title=(0.2606, 0.9858), ii=(0.3972, 0.9900)),
    "b": dict(left=[0.5469, 0.7485], right=[0.7888, 0.9908], y=[0.7256, 0.9806],
              letter=(0.5085, 0.9867), i=(0.6270, 0.9893), title=(0.7685, 0.9873), ii=(0.9124, 0.9867)),
    "c": dict(left=[0.0375, 0.2425], right=[0.2838, 0.4885], y=[0.3907, 0.6494],
              letter=(0.0167, 0.6664), i=(0.1311, 0.6612), title=(0.2627, 0.6567), ii=(0.3960, 0.6612)),
    "d": dict(left=[0.5479, 0.7505], right=[0.7911, 0.9908], y=[0.3892, 0.6453],
              letter=(0.5123, 0.6593), i=(0.6207, 0.6570), title=(0.7702, 0.6526), ii=(0.9139, 0.6581)),
    "e": dict(left=[0.0397, 0.2441], right=[0.2854, 0.4894], y=[0.0473, 0.3059],
              letter=(0.0167, 0.3413), i=(0.1311, 0.3234), title=(0.2646, 0.3137), ii=(0.4045, 0.3223)),
    "f": dict(left=[0.5373, 0.7457], right=[0.7872, 0.9926], y=[0.0459, 0.3088],
              letter=(0.5050, 0.3403), i=(0.6149, 0.3267), title=(0.7663, 0.3160), ii=(0.9081, 0.3267)),
}

W, H = 2067, 2251
Y_RANGE = [238.2, 273.9]
Y_TICKS = [240, 245, 250, 255, 260, 265, 270]
RED = "rgb(255,0,0)"
PINK = "rgba(255,0,0,0.3)"
CYAN = "rgb(0,255,255)"
AX_COLOR = "#262626"
TXT = "#111111"
TICKFONT = dict(family=MONO, size=21, color=TXT)


def day(d):
    return START + dt.timedelta(days=d)


def axis_common():
    return dict(showline=True, linecolor=AX_COLOR, linewidth=1.3, mirror=True,
                ticks="outside", ticklen=7, tickwidth=1.3, tickcolor=AX_COLOR,
                showgrid=False, zeroline=False, tickfont=TICKFONT, automargin=False)


fig = go.Figure()
layout = {}
annotations = []
shapes = []

for idx, (key, run, init_day, label, rl, hw, emp_p, emp_t, p_ev, rl10,
          mem_days, members, min_day, min_t) in enumerate(PANELS):
    g = GEOM[key]
    nl, nr = 2 * idx + 1, 2 * idx + 2
    xl = "x" if nl == 1 else f"x{nl}"
    yl = "y" if nl == 1 else f"y{nl}"
    xr, yr = f"x{nr}", f"y{nr}"
    leg = "legend" if idx == 0 else f"legend{idx + 1}"
    kl = "" if nl == 1 else str(nl)

    # ---------- (i) return-level plot ----------
    def add_l(tr):
        tr.update(xaxis=xl, yaxis=yl, legend=leg)
        fig.add_trace(tr)

    # CI of the exceedance probability (vertical band) and of the 10% level (horizontal band)
    add_l(go.Scatter(x=[p_ev[0], p_ev[2], p_ev[2], p_ev[0], p_ev[0]],
                     y=[220, 220, EVENT_T, EVENT_T, 220], mode="lines", fill="toself",
                     fillcolor=PINK, line=dict(width=0), showlegend=False, hoverinfo="skip"))
    add_l(go.Scatter(x=[0.1, 3, 3, 0.1, 0.1], y=[rl10[0], rl10[0], rl10[2], rl10[2], rl10[0]],
                     mode="lines", fill="toself", fillcolor=PINK, line=dict(width=0),
                     showlegend=False, hoverinfo="skip"))

    # fit uncertainty bands
    e_up = [r + h for r, h in zip(ERA5_RL, ERA5_HW)]
    e_lo = [r - h for r, h in zip(ERA5_RL, ERA5_HW)]
    add_l(go.Scatter(x=P_GRID + P_GRID[::-1], y=e_up + e_lo[::-1], mode="lines",
                     fill="toself", fillcolor="rgba(128,128,128,0.3)",
                     line=dict(width=0, shape="spline", smoothing=0.6),
                     showlegend=False, hoverinfo="skip"))
    i_up = [r + h for r, h in zip(rl, hw)]
    i_lo = [r - h for r, h in zip(rl, hw)]
    add_l(go.Scatter(x=P_GRID + P_GRID[::-1], y=i_up + i_lo[::-1], mode="lines",
                     fill="toself", fillcolor="rgba(255,0,0,0.25)",
                     line=dict(width=0, shape="spline", smoothing=0.6),
                     showlegend=False, hoverinfo="skip"))

    # fitted curves (legend entries)
    add_l(go.Scatter(x=P_GRID, y=rl, mode="lines", name=label,
                     line=dict(color=RED, width=2.2, shape="spline", smoothing=0.6)))
    add_l(go.Scatter(x=P_GRID, y=ERA5_RL, mode="lines", name=ERA5_LABEL,
                     line=dict(color="black", width=2.6, shape="spline", smoothing=0.6)))

    # dashed guide lines
    add_l(go.Scatter(x=[p_ev[1], p_ev[1]], y=[220, EVENT_T], mode="lines",
                     line=dict(color=RED, width=2, dash="7px,4px"), showlegend=False))
    add_l(go.Scatter(x=[0.1, 3], y=[rl10[1], rl10[1]], mode="lines",
                     line=dict(color=RED, width=2, dash="7px,4px"), showlegend=False))
    add_l(go.Scatter(x=[1, 1], y=[220, 290], mode="lines",
                     line=dict(color="#b0b0b0", width=1.3, dash="7px,4px"), showlegend=False))

    # empirical return levels
    add_l(go.Scatter(x=ERA5_EMP_P, y=ERA5_EMP_T, mode="markers", showlegend=False,
                     marker=dict(symbol="cross-thin", size=9, color="black",
                                 line=dict(color="black", width=2))))
    add_l(go.Scatter(x=emp_p, y=emp_t, mode="markers", showlegend=False,
                     marker=dict(symbol="cross-thin", size=9, color=RED,
                                 line=dict(color=RED, width=2))))
    add_l(go.Scatter(x=[EVENT_P], y=[EVENT_T + 0.05], mode="markers", showlegend=False,
                     marker=dict(symbol="circle", size=13, color="black")))

    # cyan error bars and ERA5 10% level
    add_l(go.Scatter(x=[p_ev[0], p_ev[2]], y=[EVENT_T, EVENT_T], mode="lines",
                     line=dict(color=CYAN, width=4.5), showlegend=False))
    add_l(go.Scatter(x=[0.1, 0.1], y=[rl10[0], rl10[2]], mode="lines",
                     line=dict(color=CYAN, width=4.5), showlegend=False))
    add_l(go.Scatter(x=[0.1], y=[ERA5_RL10], mode="markers", showlegend=False,
                     marker=dict(symbol="circle", size=12, color=CYAN)))

    layout[f"xaxis{kl}"] = dict(
        axis_common(), domain=g["left"], anchor=yl, type="log", range=[-1.71, 0.045],
        tickmode="array", tickvals=[0.1, 1],
        ticktext=["10<sup>−1</sup>", "10<sup>0</sup>"],
        minor=dict(ticks="outside", ticklen=4, tickwidth=1, tickcolor=AX_COLOR,
                   tickmode="array",
                   tickvals=[0.02, 0.03, 0.04, 0.05, 0.06, 0.07, 0.08, 0.09,
                             0.2, 0.3, 0.4, 0.5, 0.6, 0.7, 0.8, 0.9]))
    layout[f"yaxis{kl}"] = dict(axis_common(), domain=g["y"], anchor=xl, range=Y_RANGE,
                                tickmode="array", tickvals=Y_TICKS)
    layout[leg] = dict(x=g["left"][0] + 10 / W, y=g["y"][1] - 9 / H, xanchor="left",
                       yanchor="top", bgcolor="rgba(255,255,255,0.85)",
                       bordercolor="#d0d0d0", borderwidth=1, itemwidth=40,
                       font=dict(family=MONO, size=20, color=TXT))

    # ---------- (ii) time series ----------
    def add_r(tr):
        tr.update(xaxis=xr, yaxis=yr, showlegend=False, hoverinfo="skip")
        fig.add_trace(tr)

    gx = [day(d) for d in GREY_DAYS]
    for yr_vals in GREY_YEARS:
        add_r(go.Scatter(x=gx, y=yr_vals, mode="lines",
                         line=dict(color="rgba(128,128,128,0.34)", width=1.6)))
    mx = [day(d) for d in mem_days]
    for m in members:
        add_r(go.Scatter(x=mx, y=m, mode="lines",
                         line=dict(color="rgba(255,0,0,0.42)", width=1.7)))
    add_r(go.Scatter(x=[day(d) for d in range(len(ERA5_2018))], y=ERA5_2018, mode="lines",
                     line=dict(color="black", width=3.2, dash="10px,5px")))
    add_r(go.Scatter(x=[day(d) for d in ERA5_MIN_DAY], y=ERA5_MIN_T, mode="markers",
                     marker=dict(symbol="cross-thin", size=9, color="rgba(40,40,40,0.7)",
                                 line=dict(color="rgba(40,40,40,0.7)", width=2))))
    add_r(go.Scatter(x=[day(d) for d in min_day], y=min_t, mode="markers",
                     marker=dict(symbol="cross-thin", size=9, color=RED,
                                 line=dict(color=RED, width=2))))
    add_r(go.Scatter(x=[day(ERA5_2018_MIN[0])], y=[ERA5_2018_MIN[1]], mode="markers",
                     marker=dict(symbol="cross-thin", size=16, color="black",
                                 line=dict(color="black", width=4))))

    shapes.append(dict(type="line", xref=xr, yref=f"{yr} domain", x0=day(init_day),
                       x1=day(init_day), y0=0, y1=1,
                       line=dict(color=RED, width=1.8, dash="7px,4px")))
    for d in (WINDOW_START_DAY, WINDOW_END_DAY):
        shapes.append(dict(type="line", xref=xr, yref=f"{yr} domain", x0=day(d), x1=day(d),
                           y0=0, y1=1, line=dict(color="#7fb3e3", width=1.8)))

    tick_days = [init_day, WINDOW_START_DAY, WINDOW_END_DAY]
    tick_text = [day(init_day).strftime("%Y/%m/%d"), day(WINDOW_START_DAY).strftime("%Y/%m/%d"),
                 day(WINDOW_END_DAY - 1).strftime("%Y/%m/%d")]
    layout[f"xaxis{nr}"] = dict(axis_common(), domain=g["right"], anchor=yr, type="date",
                                range=[dt.datetime(2018, 1, 23, 0), dt.datetime(2018, 3, 10, 6)],
                                tickmode="array", tickvals=[day(d) for d in tick_days],
                                showticklabels=False)
    layout[f"yaxis{nr}"] = dict(axis_common(), domain=g["y"], anchor=xr, range=Y_RANGE,
                                tickmode="array", tickvals=Y_TICKS)
    # rotated date labels: right/top of the rotated box at the tick, as matplotlib does
    for d, txt in zip(tick_days, tick_text):
        annotations.append(dict(text=txt, x=day(d), xref=xr, y=g["y"][0] - 7 / H, yref="paper",
                                textangle=-40, xanchor="right", yanchor="top", xshift=-2,
                                borderpad=0, font=dict(family=MONO, size=19, color=TXT)))

    # ---------- texts ----------
    for a in [
        dict(text=f"({key})", x=g["letter"][0], y=g["letter"][1],
             font=dict(family=SANS, size=46, color=TXT)),
        dict(text="(i)", x=g["i"][0], y=g["i"][1], font=dict(family=SANS, size=40, color=TXT)),
        dict(text="(ii)", x=g["ii"][0], y=g["ii"][1], font=dict(family=SANS, size=40, color=TXT)),
        dict(text=f"IFS, {run}, FC {day(init_day).strftime('%Y/%m/%d')}", x=g["title"][0],
             y=g["title"][1], font=dict(family=MONO, size=27, color=TXT)),
        dict(text="Exceedance probability", x=sum(g["left"]) / 2, y=g["y"][0] - 48 / H,
             font=dict(family=MONO, size=20.5, color=TXT)),
        dict(text="T [K]", x=g["left"][0] - 64 / W, y=sum(g["y"]) / 2, textangle=-90,
             font=dict(family=MONO, size=20.5, color=TXT)),
    ]:
        a.update(xref="paper", yref="paper", xanchor="center", yanchor="middle")
        annotations.append(a)

for a in annotations:
    a.update(showarrow=False)

fig.update_layout(**layout)
fig.update_layout(width=W, height=H, margin=dict(l=0, r=0, t=0, b=0, autoexpand=False),
                  paper_bgcolor="white", plot_bgcolor="white",
                  annotations=annotations, shapes=shapes, hovermode=False)

fig.write_html("out.html")
